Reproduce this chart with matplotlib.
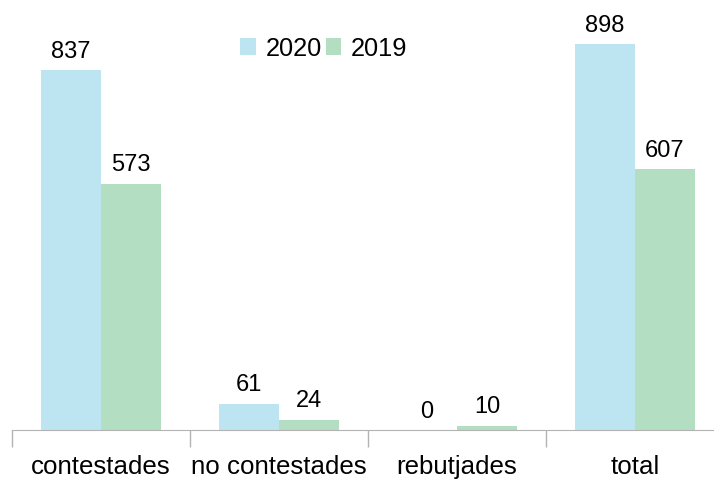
import matplotlib
matplotlib.use('Agg')
import matplotlib.pyplot as plt
import numpy as np

categories = ['contestades', 'no contestades', 'rebutjades', 'total']
values_2020 = [837, 61, 0, 898]
values_2019 = [573, 24, 10, 607]
series_names = ['2020', '2019']

plt.rcParams['font.family'] = ['Liberation Sans', 'DejaVu Sans']

fig = plt.figure(figsize=(7.14, 4.81), dpi=100)
ax = fig.add_axes([12/714, 50/481, 712/714, 430/481])

x = np.arange(len(categories))
w = 60/178
b1 = ax.bar(x - w/2, values_2020, w, color='#bde5f1', label=series_names[0])
b2 = ax.bar(x + w/2, values_2019, w, color='#b3dec2', label=series_names[1])

# value labels above bars
for bars in (b1, b2):
    for r in bars:
        ax.annotate(str(int(r.get_height())), (r.get_x() + r.get_width()/2, r.get_height()),
                    xytext=(0, 6), textcoords='offset points', ha='center', va='bottom',
                    fontsize=17)

ax.set_xlim(-0.5, 3.5)
ax.set_ylim(0, 1000)
ax.set_yticks([])
ax.set_xticks([-0.5, 0.5, 1.5, 2.5, 3.5])
ax.set_xticklabels([])
ax.tick_params(axis='x', length=12, color='#b3b3b3', width=1)
for i, c in enumerate(categories):
    ax.text(i, -55, c, ha='center', va='top', fontsize=18.6,
            transform=ax.transData)
for s in ['top', 'right', 'left']:
    ax.spines[s].set_visible(False)
ax.spines['bottom'].set_color('#b3b3b3')

leg = ax.legend(loc='upper center', ncol=2,
                frameon=False, fontsize=18.3, handlelength=0.6, handleheight=0.65,
                handletextpad=0.4, columnspacing=0.15, borderaxespad=0)
leg.set_bbox_to_anchor((312/712, 1 - 26/430), transform=ax.transAxes)

fig.savefig('out.png', dpi=100)
